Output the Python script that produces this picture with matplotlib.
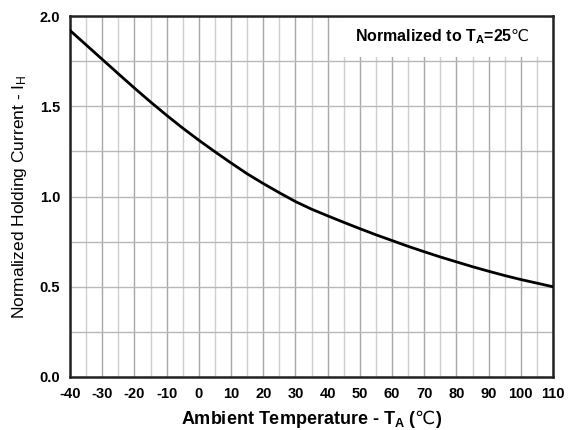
import matplotlib
matplotlib.use("Agg")
import matplotlib.pyplot as plt
from matplotlib.ticker import MultipleLocator

# Ambient temperature (C) and normalized holding current
temp = [-40, -35, -30, -25, -20, -15, -10, -5, 0, 5, 10, 15, 20, 25, 30, 35,
        40, 45, 50, 55, 60, 65, 70, 75, 80, 85, 90, 95, 100, 105, 110]
ih_norm = [1.92, 1.84, 1.76, 1.68, 1.601, 1.524, 1.45, 1.379, 1.312, 1.248, 1.186,
           1.126, 1.072, 1.021, 0.972, 0.930, 0.893, 0.857, 0.822, 0.788, 0.756,
           0.724, 0.694, 0.665, 0.638, 0.611, 0.586, 0.562, 0.54, 0.52, 0.50]

x_ticks = list(range(-40, 111, 10))
y_ticks = [0.0, 0.5, 1.0, 1.5, 2.0]

plt.rcParams['font.family'] = ['Liberation Sans', 'DejaVu Sans']
plt.rcParams['mathtext.fontset'] = 'custom'
plt.rcParams['mathtext.rm'] = 'Liberation Sans'
plt.rcParams['mathtext.bf'] = 'Liberation Sans:bold'
plt.rcParams['mathtext.sf'] = 'DejaVu Sans'
plt.rcParams['axes.unicode_minus'] = False

fig = plt.figure(figsize=(5.68, 4.30), dpi=100)
ax = fig.add_axes([70 / 568, 1 - 377 / 430, 483 / 568, 361 / 430])

ax.plot(temp, ih_norm, color="black", lw=2.0, zorder=3, solid_joinstyle="round")

ax.set_xlim(-40, 110)
ax.set_ylim(0, 2.0)
ax.set_xticks(x_ticks)
ax.set_yticks(y_ticks)
ax.set_yticklabels([f"{v:.1f}" for v in y_ticks])
ax.xaxis.set_minor_locator(MultipleLocator(5))
ax.yaxis.set_minor_locator(MultipleLocator(0.25))

ax.grid(True, which="major", axis="x", color="#a8a8a8", lw=1.0)
ax.grid(True, which="minor", axis="x", color="#cfcfcf", lw=1.0)
ax.grid(True, which="both", axis="y", color="#b8b8b8", lw=1.0)
ax.tick_params(which="both", length=0)
ax.tick_params(axis="both", labelsize=10.5, pad=7)
for lab in ax.get_xticklabels() + ax.get_yticklabels():
    lab.set_fontweight("bold")

for sp in ax.spines.values():
    sp.set_linewidth(1.8)
    sp.set_color("#222222")

ax.set_xlabel(r"Ambient Temperature - $\mathbf{T_A}$ ($\mathsf{℃}$)", fontsize=13,
              fontweight="bold", labelpad=5)
ax.set_ylabel(r"Normalized Holding Current - $\mathregular{I_H}$", fontsize=12.5,
              labelpad=8)

ax.text(0.77, 0.942, r"Normalized to $\mathbf{T_A}$=25$\mathsf{℃}$", transform=ax.transAxes,
        ha="center", va="center", fontsize=11.5, fontweight="bold", zorder=2.2,
        bbox=dict(boxstyle="square,pad=0.7", fc="white", ec="none"))

fig.savefig("out.png", dpi=100)
